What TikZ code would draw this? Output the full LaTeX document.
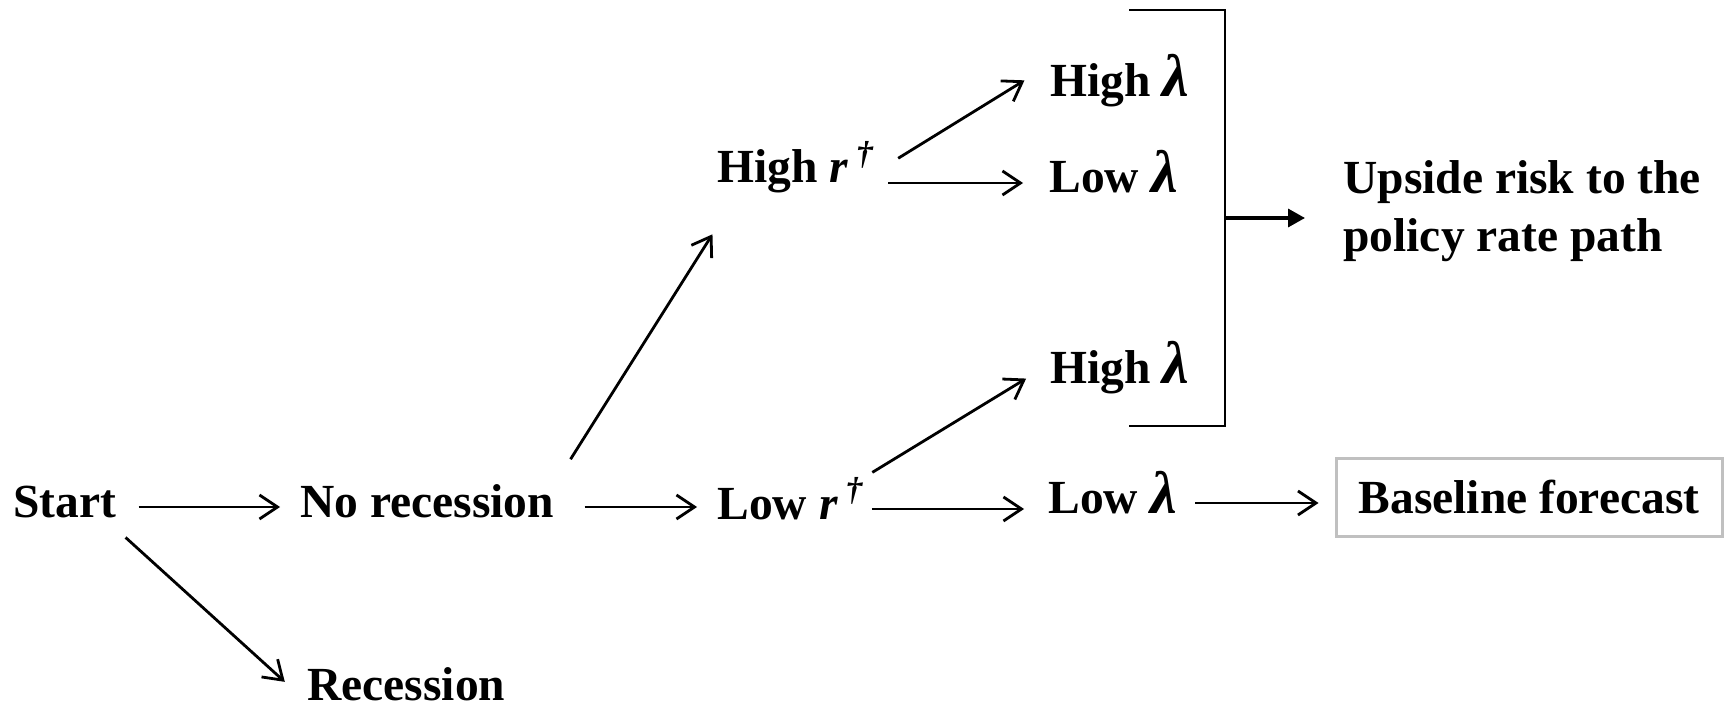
\documentclass[tikz,border=0pt]{standalone}
\usepackage{fontspec}
\setmainfont{Liberation Serif}
\usepackage{tikz}
\usetikzlibrary{arrows.meta, positioning, calc}
\definecolor{boxGray}{HTML}{C0C0C0}
\newcommand{\lmb}{{\fontsize{30}{29}\selectfont\textit{λ}}}
\newcommand{\rdag}{\textit{r}\,\textsuperscript{\itshape †}}

\begin{document}
\begin{tikzpicture}[x=0.5pt, y=-0.5pt,
  every node/.style={font=\fontsize{23.75}{29}\selectfont\bfseries, inner sep=0pt},
  lbl/.style={anchor=base west, text height=16pt, text depth=6pt},
  arr/.style={line width=1.4pt, -{Straight Barb[length=9pt, width=12pt]},
              shorten >=10pt, shorten <=10pt},
  fatarr/.style={line width=1.7pt, -{Triangle[length=8.5pt, width=9pt]}},
  brk/.style={line width=1.3pt},
  outbox/.style={draw=boxGray, line width=1.5pt, minimum width=193pt,
                 minimum height=39pt, text height=18pt, text depth=2pt}]
  \useasboundingbox (0,0) rectangle (1725,711);
  % first split
  \node[lbl] (start) at (13,517) {Start};
  \node[lbl] (norec) at (300,517) {No recession};
  \node[lbl, text depth=0pt] (rec) at (307,700) {Recession};
  % r-dagger
  \node[lbl] (highr) at (717,183) {High \rdag};
  \node[lbl] (lowr) at (717,519) {Low \rdag};
  % lambda
  \node[lbl] (hl1) at (1050,97) {High \lmb};
  \node[lbl] (ll1) at (1049,193) {Low \lmb};
  \node[lbl] (hl2) at (1050,384) {High \lmb};
  \node[lbl] (ll2) at (1048,513) {Low \lmb};
  % outcomes
  \node[anchor=west, align=left] (upside) at (1343,211)
    {Upside risk to the\\policy rate path};
  \node[outbox] (base) at (1529,497) {Baseline forecast};

  \draw[arr, shorten <=11pt] (start) -- (start -| norec.west);
  \draw[arr, shorten <=6pt, shorten >=15pt] (start.south east) -- ([yshift=-9pt]rec.west);
  \draw[arr, shorten <=15pt] (norec) -- (norec -| lowr.west);
  \draw[arr, shorten <=15pt, shorten >=23pt] (norec.north east) -- ([xshift=10pt]highr.south west);
  \draw[arr, shorten <=14pt, shorten >=15pt] (highr.east) -- (hl1.north west);
  \draw[arr, shorten <=7pt, shorten >=13pt] (highr.east |- ll1) -- (ll1.west);
  \draw[arr, shorten <=5pt, shorten >=14pt] ([yshift=4.5pt]lowr.north east) -- ([yshift=5pt]hl2.west);
  \draw[arr, shorten <=4pt, shorten >=12pt] (lowr) -- (lowr -| ll2.west);
  \draw[arr, shorten <=9pt, shorten >=8pt] (ll2) -- (ll2 -| base.west);

  % bracket
  \draw[brk] (1129,10) -| (1225,426) -- (1129,426);
  \coordinate (brmid) at (1225,218);
  \draw[fatarr, shorten >=19pt] (brmid) -- (brmid -| upside.west);
\end{tikzpicture}
\end{document}
